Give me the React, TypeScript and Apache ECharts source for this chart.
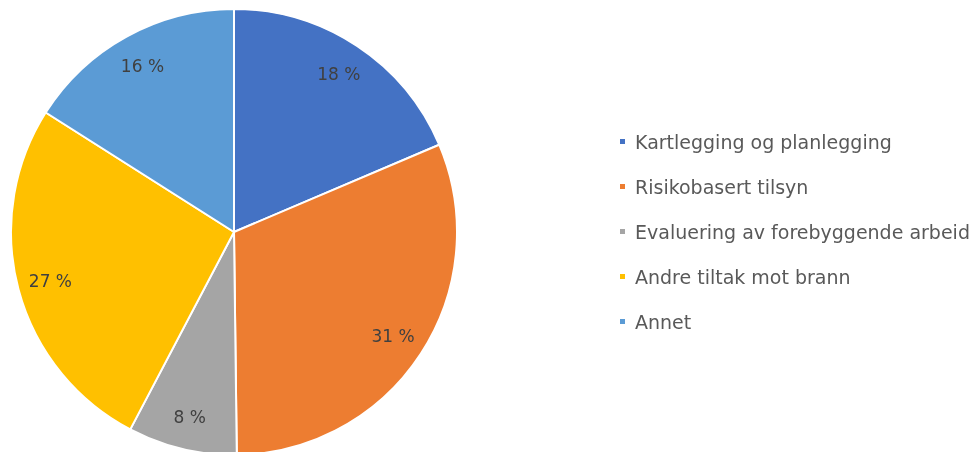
import React, { useEffect, useRef } from "react";
import * as echarts from "echarts";

const categories = [
  "Kartlegging og planlegging",
  "Risikobasert tilsyn",
  "Evaluering av forebyggende arbeid",
  "Andre tiltak mot brann",
  "Annet",
];
// slice shares
const values = [18.6, 31.2, 7.9, 26.3, 16.0];
// percentage labels as printed on the slices
const labels = ["18 %", "31 %", "8 %", "27 %", "16 %"];
const colors = ["#4472C4", "#ED7D31", "#A5A5A5", "#FFC000", "#5B9BD5"];

export default function App() {
  const ref = useRef<HTMLDivElement>(null);
  useEffect(() => {
    if (!ref.current) return;
    const chart = echarts.init(ref.current, undefined, { renderer: "svg" });
    const data = categories.map((name, i) => ({
      name,
      value: values[i],
      itemStyle: { color: colors[i] },
    }));
    const fontFamily = "'DejaVu Sans', sans-serif";
    chart.setOption({
      animation: false,
      legend: {
        orient: "vertical",
        left: 613,
        top: 127,
        itemWidth: 7,
        itemHeight: 7,
        itemGap: 26,
        icon: "rect",
        textStyle: { color: "#595959", fontSize: 19, fontFamily, lineHeight: 19, padding: [0, 0, 0, 4] },
        data: categories,
      },
      series: [
        {
          type: "pie",
          center: [234, 232],
          radius: [0, 223],
          startAngle: 90,
          clockwise: true,
          data,
          label: { show: false },
          labelLine: { show: false },
          itemStyle: { borderColor: "#fff", borderWidth: 2 },
          emphasis: { disabled: true },
        },
        {
          type: "pie",
          center: [234, 232],
          radius: [151, 223],
          startAngle: 90,
          clockwise: true,
          silent: true,
          data: categories.map((name, i) => ({ name, value: values[i] })),
          itemStyle: { color: "rgba(0,0,0,0)" },
          label: {
            show: true,
            position: "inside",
            formatter: (p: any) => labels[p.dataIndex],
            color: "#404040",
            fontSize: 17,
            fontFamily,
          },
          labelLine: { show: false },
          emphasis: { disabled: true },
          legendHoverLink: false,
        },
      ],
    });
    return () => chart.dispose();
  }, []);
  return <div ref={ref} style={{ position: "fixed", left: 0, top: 0, width: 977, height: 452 }} />;
}
